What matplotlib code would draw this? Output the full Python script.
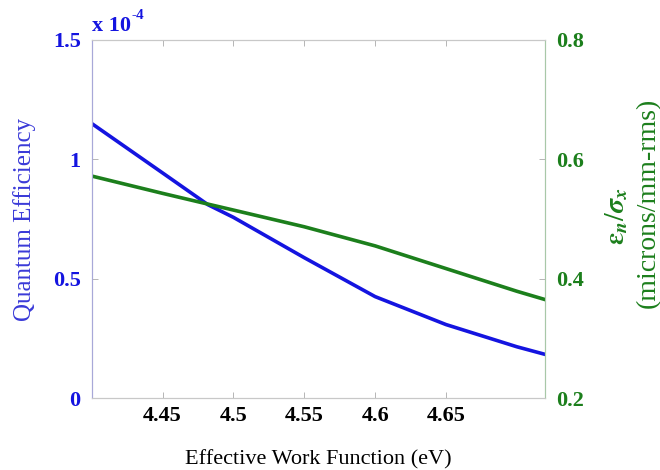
import matplotlib
matplotlib.use("Agg")
import matplotlib.pyplot as plt

matplotlib.rcParams["font.family"] = ["Liberation Serif", "DejaVu Serif"]
matplotlib.rcParams["mathtext.fontset"] = "stix"

# data
work_function = [4.40, 4.45, 4.482, 4.50, 4.55, 4.60, 4.65, 4.70, 4.72]
quantum_eff = [1.15, 0.943, 0.81, 0.757, 0.588, 0.425, 0.308, 0.215, 0.183]   # x 1e-4
emit_ratio = [0.572, 0.543, 0.525, 0.515, 0.487, 0.455, 0.417, 0.379, 0.365]  # microns/mm-rms
x_ticks = [4.45, 4.5, 4.55, 4.6, 4.65]
x_tick_labels = ["4.45", "4.5", "4.55", "4.6", "4.65"]
qe_ticks = [0, 0.5, 1, 1.5]
qe_tick_labels = ["0", "0.5", "1", "1.5"]
er_ticks = [0.2, 0.4, 0.6, 0.8]
er_tick_labels = ["0.2", "0.4", "0.6", "0.8"]

blue = "#1414e0"
green = "#1c7f1c"

fig = plt.figure(figsize=(6.6, 4.7), dpi=100)
ax = fig.add_axes([0.139, 0.153, 0.687, 0.762])
ax2 = ax.twinx()

ax.plot(work_function, quantum_eff, color=blue, linewidth=2.6, solid_joinstyle="round")
ax2.plot(work_function, emit_ratio, color=green, linewidth=2.6, solid_joinstyle="round")

ax.set_xlim(4.40, 4.72)
ax.set_ylim(0, 1.5)
ax2.set_ylim(0.2, 0.8)

ax.set_xticks(x_ticks)
ax.set_xticklabels(x_tick_labels, fontsize=16, fontweight="bold")
ax.set_yticks(qe_ticks)
ax.set_yticklabels(qe_tick_labels, fontsize=16, fontweight="bold", color=blue)
ax2.set_yticks(er_ticks)
ax2.set_yticklabels(er_tick_labels, fontsize=16, fontweight="bold", color=green)

ax.tick_params(axis="both", direction="in", length=4, width=0.6, color="#aaaaaa", top=True)
ax.tick_params(axis="x", pad=6)
ax.tick_params(axis="y", pad=8)
ax2.tick_params(axis="y", direction="in", length=4, width=0.6, color="#aaaaaa", pad=8)

for a in (ax, ax2):
    for s in a.spines.values():
        s.set_color("#c8c8c8")
        s.set_linewidth(0.8)
ax.spines["left"].set_color("#a8a8d8")
ax2.spines["left"].set_color("#a8a8d8")
ax2.spines["right"].set_color("#a8c8a8")

ax.set_xlabel("Effective Work Function (eV)", fontsize=16, labelpad=17)
ax.set_ylabel("Quantum Efficiency", fontsize=18, color="#3a3ad8", labelpad=12)

ax.text(0.0, 1.012, "x 10", transform=ax.transAxes, fontsize=16,
        fontweight="bold", color=blue, ha="left", va="bottom")
ax.text(0.088, 1.05, "-4", transform=ax.transAxes, fontsize=11,
        fontweight="bold", color=blue, ha="left", va="bottom")

fig.text(0.935, 0.54, r"$\boldsymbol{\varepsilon}_{\boldsymbol{n}}/\boldsymbol{\sigma}_{\boldsymbol{x}}$",
         rotation=90, fontsize=20, color=green, ha="center", va="center")
fig.text(0.982, 0.568, "(microns/mm-rms)", rotation=90, fontsize=20,
         color=green, ha="center", va="center")

fig.savefig("out.png", dpi=100)
